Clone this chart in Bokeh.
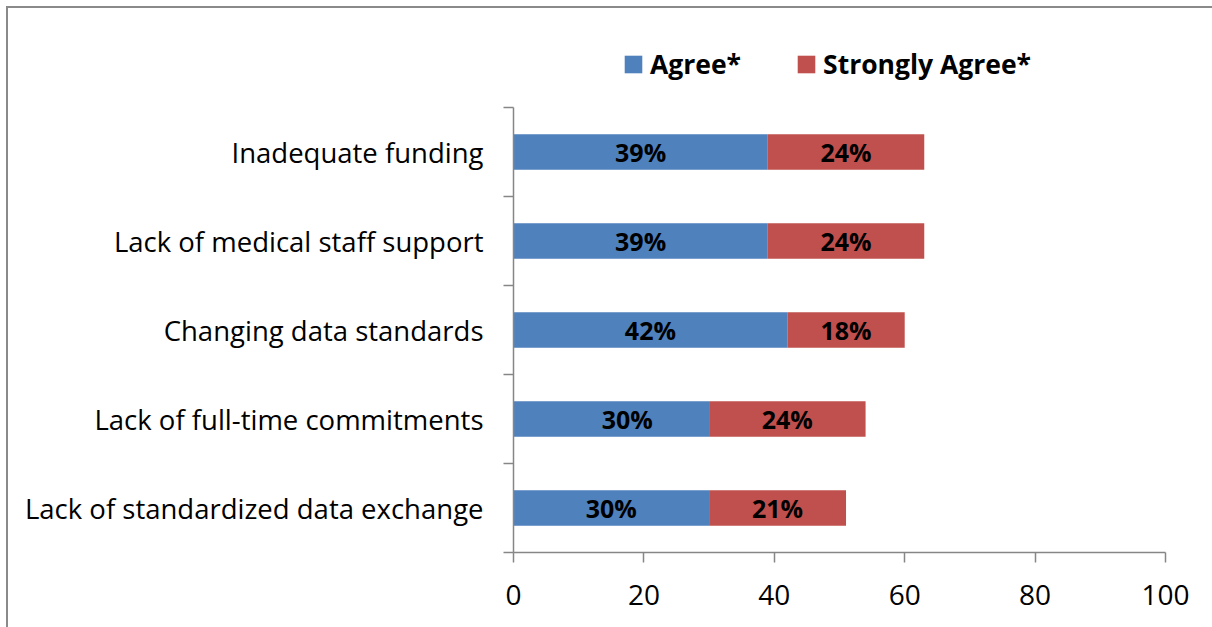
from bokeh.plotting import figure
from bokeh.models import (ColumnDataSource, FixedTicker, Range1d, Legend, LegendItem,
                          LabelSet)
from bokeh.core.properties import value
from bokeh.embed import file_html
from bokeh.resources import INLINE

# ---- data (top to bottom as shown) ----
categories = [
    "Inadequate funding",
    "Lack of medical staff support",
    "Changing data standards",
    "Lack of full-time commitments",
    "Lack of standardized data exchange",
]
agree = [39, 39, 42, 30, 30]
strongly_agree = [24, 24, 18, 24, 21]
x_ticks = [0, 20, 40, 60, 80, 100]
series_names = ["Agree*", "Strongly Agree*"]

BLUE = "#4F81BD"
RED = "#C0504D"
AXIS = "#868686"
FONT = "Open Sans"

n = len(categories)
# numeric positions: first category at the top
ypos = [n - 1 - i + 0.5 for i in range(n)]
# screen-pixel nudges of the "Agree" labels, as placed in the original
agree_label_nudge = [0, 0, 0, 16, 0]

src = ColumnDataSource(dict(
    y=ypos,
    a0=[0] * n,
    a1=agree,
    s1=[a + s for a, s in zip(agree, strongly_agree)],
    amid=[a / 2 for a in agree],
    smid=[a + s / 2 for a, s in zip(agree, strongly_agree)],
    alab=[f"{a}%" for a in agree],
    slab=[f"{s}%" for s in strongly_agree],
    anudge=agree_label_nudge,
    snudge=[0] * n,
))

# extra band above the categories holds the legend
p = figure(width=1204, height=619, output_backend="svg", toolbar_location=None,
           x_range=Range1d(0, 100), y_range=Range1d(0, n + 1),
           min_border_left=505, min_border_right=47, min_border_top=10,
           min_border_bottom=75)
p.styles = {"margin-left": "8px", "margin-top": "8px",
            "outline": "2px solid #8a8a8a"}
p.outline_line_color = None
p.xgrid.visible = False
p.ygrid.visible = False
p.background_fill_color = "white"
p.border_fill_color = "white"

r_a = p.hbar(y="y", left="a0", right="a1", height=0.4, source=src,
             fill_color=BLUE, line_color=None)
r_s = p.hbar(y="y", left="a1", right="s1", height=0.4, source=src,
             fill_color=RED, line_color=None)

for xcol, tcol, ncol in (("amid", "alab", "anudge"), ("smid", "slab", "snudge")):
    p.add_layout(LabelSet(x=xcol, y="y", text=tcol, source=src, x_offset=ncol,
                          text_align="center", text_baseline="middle",
                          text_font=value(FONT), text_font_style="bold",
                          text_font_size="25px", text_color="black"))

# x axis
xa = p.xaxis[0]
xa.ticker = FixedTicker(ticks=x_ticks)
xa.axis_line_color = AXIS
xa.axis_line_width = 1.5
xa.major_tick_line_color = AXIS
xa.major_tick_line_width = 1.5
xa.major_tick_in = 0
xa.major_tick_out = 10
xa.minor_tick_line_color = None
xa.major_label_text_font = FONT
xa.major_label_text_font_size = "28px"
xa.major_label_text_color = "black"
xa.major_label_standoff = 22

# y axis: labels at centers, ticks at category boundaries
ya = p.yaxis[0]
ya.bounds = (0, n)
ya.ticker = FixedTicker(ticks=ypos, minor_ticks=list(range(n + 1)))
ya.major_label_overrides = {y: c for y, c in zip(ypos, categories)}
ya.axis_line_color = AXIS
ya.axis_line_width = 1.5
ya.major_tick_line_color = None
ya.major_tick_in = 0
ya.major_tick_out = 0
ya.minor_tick_line_color = AXIS
ya.minor_tick_line_width = 1.5
ya.minor_tick_in = 0
ya.minor_tick_out = 10
ya.major_label_text_font = FONT
ya.major_label_text_font_size = "27.5px"
ya.major_label_text_color = "black"
ya.major_label_standoff = 20

legend = Legend(items=[LegendItem(label=series_names[0], renderers=[r_a]),
                       LegendItem(label=series_names[1], renderers=[r_s])],
                orientation="horizontal", location=(109, 470),
                glyph_width=22, glyph_height=22, label_standoff=6,
                spacing=54, padding=0, margin=0, label_height=32,
                label_text_font=FONT, label_text_font_style="bold",
                label_text_font_size="26.5px", label_text_color="black",
                border_line_color=None, background_fill_alpha=0)
p.add_layout(legend, "center")

open("out.html", "w").write(file_html(p, INLINE))
